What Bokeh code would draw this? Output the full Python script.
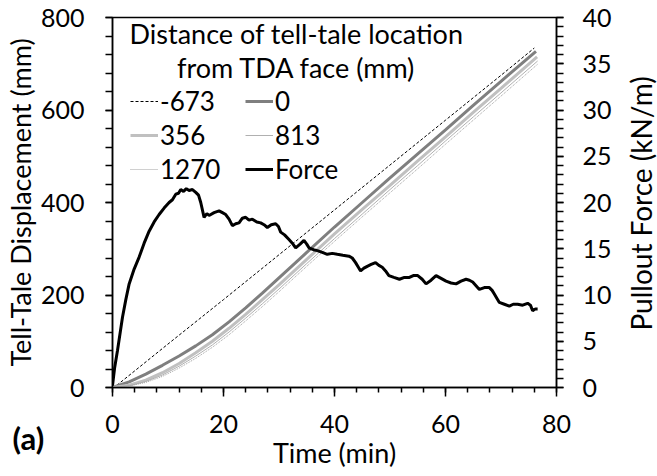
import math
from bokeh.plotting import figure
from bokeh.models import (Range1d, LinearAxis, SingleIntervalTicker,
                          Legend, LegendItem, Label, Title)
from bokeh.embed import file_html
from bokeh.resources import INLINE

# ---------------- data ----------------
t_m673 = [0, 0.5, 10, 20, 30, 40, 50, 60, 70, 76.0]
d_m673 = [0, 2, 94, 190, 287, 384, 481, 578, 675, 734]

t_tt = [0, 3, 6, 9, 12, 15, 18, 21, 24, 27, 30, 35, 40, 45, 50, 55, 60, 65, 70]
d_0 = [0, 12, 29, 48, 68, 90, 114, 142, 172, 204, 237, 292, 347, 400, 453, 505, 557, 610, 662]
d_356 = [0, 5, 16, 32, 52, 75, 100, 128, 158, 190, 222, 277, 332, 385, 437, 490, 542, 595, 647]
d_813 = [0, 4, 13, 27, 46, 68, 92, 120, 150, 181, 213, 268, 322, 375, 428, 480, 533, 585, 637]
d_1270 = [0, 3, 11, 24, 42, 63, 87, 114, 144, 175, 207, 262, 316, 369, 421, 473, 526, 578, 630]
t_end = [76.3, 76.5, 76.6, 76.6]
d_end = [727, 715, 706, 699]

t_force = [0, 0.4, 0.9, 1.4, 1.8, 2.4, 3.0, 3.9, 4.8, 5.7, 6.6, 7.5, 8.4, 9.3, 10.2,
           10.8, 11.4, 11.9, 12.3, 12.8, 13.3, 13.8, 14.4, 15.0, 15.5, 15.9, 16.5,
           17.0, 17.4, 18.3, 19.2, 19.8, 20.4, 21.0, 21.6, 22.2, 22.8, 23.4, 24.0,
           24.6, 25.2, 26.0, 26.7, 27.3, 27.9, 28.6, 29.4, 29.9, 30.3, 31.0, 31.8,
           32.4, 33.0, 33.8, 34.5, 35.0, 35.4, 36.2, 36.9, 37.8, 38.7, 39.6, 40.5,
           41.5, 42.6, 43.2, 43.8, 44.3, 44.7, 45.3, 45.9, 46.6, 47.4, 48.0, 48.6,
           49.2, 49.8, 50.7, 51.7, 52.6, 53.5, 54.2, 55.0, 55.8, 56.5, 57.4, 58.3,
           59.2, 60.1, 61.0, 61.9, 62.8, 63.7, 64.3, 64.9, 65.5, 66.1, 67.0, 67.9,
           68.4, 68.8, 69.3, 69.7, 70.6, 71.5, 72.2, 73.0, 73.9, 74.8, 75.3, 75.7,
           76.2, 76.6]
f_force = [0.2, 2.2, 4.0, 6.0, 7.6, 9.5, 11.2, 12.8, 14.1, 15.6, 16.9, 17.9, 18.7, 19.4, 20.0,
           20.3, 20.9, 21.0, 21.4, 21.2, 21.5, 21.3, 21.4, 21.1, 20.8, 20.0, 18.4,
           18.8, 18.6, 18.9, 19.1, 18.9, 18.7, 18.2, 17.5, 17.7, 17.8, 18.3, 18.4,
           18.1, 18.2, 17.9, 17.8, 17.6, 17.3, 17.6, 17.7, 17.4, 16.8, 16.5, 16.0,
           15.6, 15.1, 15.5, 15.9, 15.5, 15.1, 14.9, 14.8, 14.6, 14.4, 14.5, 14.4,
           14.3, 14.2, 14.0, 13.5, 13.0, 12.6, 12.9, 13.1, 13.3, 13.5, 13.2, 13.0,
           12.6, 12.1, 11.9, 11.7, 11.9, 11.9, 12.1, 12.1, 11.7, 11.2, 11.6, 12.1,
           11.8, 11.5, 11.3, 11.2, 11.5, 11.7, 11.6, 11.4, 11.0, 10.6, 10.8, 10.8,
           10.5, 10.1, 9.6, 9.2, 9.0, 8.8, 9.0, 9.0, 8.9, 9.1, 8.9, 8.3,
           8.5, 8.5]

legend_labels = ["-673", "0", "356", "813", "1270", "Force"]
legend_title = ["Distance of tell-tale location", "from TDA face (mm)"]
x_title = "Time (min)"
y_title = "Tell-Tale Displacement (mm)"
y2_title = "Pullout Force (kN/m)"
panel_tag = "(a)"

FONT = "Lato"

p = figure(width=657, height=476, x_range=Range1d(0, 80), y_range=Range1d(0, 800),
           output_backend="svg", toolbar_location=None,
           min_border_left=112, min_border_right=101, min_border_top=17,
           min_border_bottom=89)
p.extra_y_ranges = {"force": Range1d(0, 40)}
p.xgrid.visible = False
p.ygrid.visible = False
p.outline_line_color = "black"
p.outline_line_width = 1.5
p.background_fill_color = "white"
p.border_fill_color = "white"

r1 = p.line(t_m673, d_m673, line_color="black", line_width=1, line_dash="3 2")
r2 = p.line(t_tt + t_end[:1], d_0 + d_end[:1], line_color="#7f7f7f", line_width=3)
r3 = p.line(t_tt + t_end[1:2], d_356 + d_end[1:2], line_color="#c0c0c0", line_width=3)
r4 = p.line(t_tt + t_end[2:3], d_813 + d_end[2:3], line_color="#b0b0b0", line_width=1)
r5 = p.line(t_tt + t_end[3:4], d_1270 + d_end[3:4], line_color="#a0a0a0", line_width=1,
            line_dash="1 1")
r6 = p.line(t_force, f_force, line_color="black", line_width=3, y_range_name="force")

xa = p.xaxis[0]
ya = p.yaxis[0]
yaxis2 = LinearAxis(y_range_name="force")
p.add_layout(yaxis2, "right")


def style(ax):
    ax.axis_line_color = "black"
    ax.axis_line_width = 1.5
    ax.major_tick_line_color = "black"
    ax.minor_tick_line_color = "black"
    ax.major_tick_line_width = 1.5
    ax.minor_tick_line_width = 1.5
    ax.major_tick_in = 0
    ax.minor_tick_in = 0
    ax.major_label_text_font = FONT
    ax.major_label_text_font_size = "25px"
    ax.major_label_text_color = "black"
    ax.axis_label_text_font = FONT
    ax.axis_label_text_font_size = "27px"
    ax.axis_label_text_font_style = "normal"
    ax.axis_label_text_color = "black"


for ax in (xa, ya, yaxis2):
    style(ax)

xa.ticker = SingleIntervalTicker(interval=20, num_minor_ticks=5)
xa.major_tick_out = 9
xa.minor_tick_out = 5
xa.major_label_standoff = 18
xa.axis_label = x_title
xa.axis_label_standoff = 0

ya.ticker = SingleIntervalTicker(interval=200, num_minor_ticks=5)
ya.major_tick_out = 7
ya.minor_tick_out = 7
ya.major_label_standoff = 21
ya.axis_label = y_title
ya.axis_label_standoff = 1

yaxis2.ticker = SingleIntervalTicker(interval=5, num_minor_ticks=5)
yaxis2.major_tick_out = 7
yaxis2.minor_tick_out = 7
yaxis2.major_label_standoff = 19

# right-hand axis title, reading bottom-to-top, held in the right side panel
p.add_layout(Label(x=95.3, y=398, x_units="data", y_units="data", text=y2_title,
                   angle=math.pi / 2, text_align="center", text_baseline="middle",
                   text_font=FONT, text_font_size="28px", text_color="black"), "right")


def make_legend(items, vx):
    lg = Legend(items=items, location=(vx, 201), orientation="vertical",
                glyph_width=28, glyph_height=34, label_height=34, spacing=0,
                padding=0, margin=0, label_standoff=2,
                label_text_font=FONT, label_text_font_size="26px",
                label_text_color="black",
                border_line_alpha=0, background_fill_alpha=0)
    return lg


leg1 = make_legend([LegendItem(label=legend_labels[0], renderers=[r1]),
                    LegendItem(label=legend_labels[2], renderers=[r3]),
                    LegendItem(label=legend_labels[4], renderers=[r5])], 18)
leg2 = make_legend([LegendItem(label=legend_labels[1], renderers=[r2]),
                    LegendItem(label=legend_labels[3], renderers=[r4]),
                    LegendItem(label=legend_labels[5], renderers=[r6])], 133)
p.add_layout(leg1)
p.add_layout(leg2)

for txt, yy in zip(legend_title, (354, 320)):
    p.add_layout(Label(x=184, y=yy, x_units="screen", y_units="screen", text=txt,
                       text_align="center", text_baseline="middle",
                       text_font=FONT, text_font_size="27px", text_color="black"))

tag = Title(text=panel_tag, align="left", vertical_align="top", offset=-100,
            text_font=FONT, text_font_size="31px", text_font_style="bold",
            text_color="black")
try:
    tag.standoff = -106
except ValueError:
    tag.standoff = 0
p.add_layout(tag, "below")

open("out.html", "w").write(file_html(p, INLINE))
